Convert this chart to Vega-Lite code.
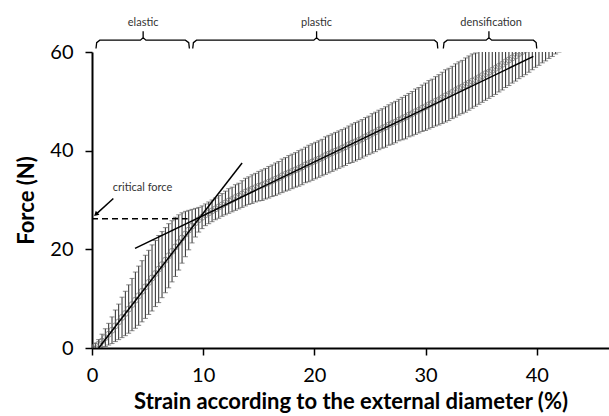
{
  "$schema": "https://vega.github.io/schema/vega-lite/v6.json",
  "autosize": {"type": "none"},
  "padding": {"left": 92, "top": 52, "right": 0, "bottom": 68},
  "width": 517,
  "height": 296,
  "background": "white",
  "config": {
    "view": {"stroke": null},
    "font": "Lato",
    "axis": {"grid": false, "domainColor": "black", "domainWidth": 2, "tickColor": "black", "tickWidth": 1.5, "tickSize": 7,
      "labelFontSize": 20, "labelColor": "black", "labelFont": "Lato", "labelFlush": false,
      "titleFontSize": 22, "titleFontWeight": "bold", "titleColor": "black", "titleFont": "Lato"},
    "axisX": {"labelPadding": 10, "titlePadding": 6},
    "axisY": {"labelPadding": 12, "titlePadding": 11}
  },
  "datasets": {
    "pts": [
      {"x":0,"y":0,"lo":-0.3,"hi":0.3},{"x":0.3,"y":0.36,"lo":-0.2,"hi":1.0},{"x":0.6,"y":0.8,"lo":-0.1,"hi":1.7},{"x":0.9,"y":1.4,"lo":0,"hi":2.8},
      {"x":1.2,"y":2.1,"lo":0.3,"hi":3.9},{"x":1.5,"y":2.8,"lo":0.6,"hi":5.0},{"x":1.8,"y":3.6,"lo":0.9,"hi":6.3},{"x":2.1,"y":4.5,"lo":1.3,"hi":7.7},
      {"x":2.4,"y":5.3,"lo":1.7,"hi":8.9},{"x":2.7,"y":6.2,"lo":2.1,"hi":10.3},{"x":3.0,"y":7.0,"lo":2.5,"hi":11.5},{"x":3.3,"y":7.9,"lo":3.0,"hi":12.8},
      {"x":3.6,"y":8.8,"lo":3.5,"hi":14.1},{"x":3.9,"y":9.7,"lo":4.0,"hi":15.4},{"x":4.2,"y":10.6,"lo":4.6,"hi":16.6},{"x":4.5,"y":11.5,"lo":5.3,"hi":17.7},
      {"x":4.8,"y":12.4,"lo":6.0,"hi":18.8},{"x":5.1,"y":13.3,"lo":6.8,"hi":19.8},{"x":5.4,"y":14.2,"lo":7.5,"hi":20.9},{"x":5.7,"y":15.1,"lo":8.4,"hi":21.8},
      {"x":6.0,"y":16.0,"lo":9.2,"hi":22.8},{"x":6.3,"y":16.9,"lo":10.2,"hi":23.6},{"x":6.6,"y":17.8,"lo":11.2,"hi":24.4},{"x":6.9,"y":18.7,"lo":12.2,"hi":25.2},
      {"x":7.2,"y":19.6,"lo":13.4,"hi":25.8},{"x":7.5,"y":20.5,"lo":14.5,"hi":26.5},{"x":7.8,"y":21.4,"lo":15.8,"hi":27.0},{"x":8.1,"y":22.3,"lo":17.2,"hi":27.4},
      {"x":8.4,"y":23.1,"lo":18.5,"hi":27.7},{"x":8.7,"y":23.9,"lo":19.9,"hi":27.9},{"x":9.0,"y":24.7,"lo":21.3,"hi":28.1},{"x":9.3,"y":25.4,"lo":22.5,"hi":28.3},
      {"x":9.6,"y":26.0,"lo":23.5,"hi":28.5},{"x":9.9,"y":26.5,"lo":24.2,"hi":28.8},{"x":10.2,"y":27.0,"lo":24.8,"hi":29.2},{"x":10.5,"y":27.4,"lo":25.2,"hi":29.6},
      {"x":10.8,"y":27.8,"lo":25.6,"hi":30.0},{"x":11.1,"y":28.2,"lo":26.0,"hi":30.4},{"x":11.4,"y":28.6,"lo":26.3,"hi":30.9},{"x":11.7,"y":29.0,"lo":26.7,"hi":31.3},
      {"x":12.0,"y":29.4,"lo":27.0,"hi":31.8},{"x":12.3,"y":29.8,"lo":27.3,"hi":32.3},{"x":12.6,"y":30.1,"lo":27.6,"hi":32.6},{"x":12.9,"y":30.5,"lo":27.9,"hi":33.1},
      {"x":13.2,"y":30.8,"lo":28.2,"hi":33.4},{"x":13.5,"y":31.2,"lo":28.5,"hi":33.9},{"x":13.8,"y":31.6,"lo":28.8,"hi":34.4},{"x":14.1,"y":31.9,"lo":29.1,"hi":34.7},
      {"x":14.4,"y":32.2,"lo":29.3,"hi":35.1},{"x":14.7,"y":32.5,"lo":29.6,"hi":35.4},{"x":15.0,"y":32.8,"lo":29.8,"hi":35.8},{"x":15.3,"y":33.0,"lo":29.9,"hi":36.1},
      {"x":15.6,"y":33.3,"lo":30.2,"hi":36.4},{"x":15.9,"y":33.6,"lo":30.4,"hi":36.8},{"x":16.2,"y":33.9,"lo":30.7,"hi":37.1},{"x":16.5,"y":34.2,"lo":30.9,"hi":37.5},
      {"x":16.8,"y":34.5,"lo":31.2,"hi":37.8},{"x":17.1,"y":34.9,"lo":31.5,"hi":38.3},{"x":17.4,"y":35.2,"lo":31.8,"hi":38.6},{"x":17.7,"y":35.5,"lo":32.0,"hi":39.0},
      {"x":18.0,"y":35.8,"lo":32.3,"hi":39.3},{"x":18.3,"y":36.1,"lo":32.6,"hi":39.6},{"x":18.6,"y":36.4,"lo":32.8,"hi":40.0},{"x":18.9,"y":36.7,"lo":33.1,"hi":40.3},
      {"x":19.2,"y":37.1,"lo":33.5,"hi":40.7},{"x":19.5,"y":37.4,"lo":33.7,"hi":41.1},{"x":19.8,"y":37.7,"lo":34.0,"hi":41.4},{"x":20.1,"y":38.0,"lo":34.3,"hi":41.7},
      {"x":20.4,"y":38.3,"lo":34.6,"hi":42.0},{"x":20.7,"y":38.6,"lo":34.9,"hi":42.3},{"x":21.0,"y":39.0,"lo":35.2,"hi":42.8},{"x":21.3,"y":39.3,"lo":35.5,"hi":43.1},
      {"x":21.6,"y":39.6,"lo":35.8,"hi":43.4},{"x":21.9,"y":39.9,"lo":36.1,"hi":43.7},{"x":22.2,"y":40.2,"lo":36.4,"hi":44.0},{"x":22.5,"y":40.5,"lo":36.7,"hi":44.3},
      {"x":22.8,"y":40.8,"lo":37.0,"hi":44.6},{"x":23.1,"y":41.2,"lo":37.4,"hi":45.0},{"x":23.4,"y":41.5,"lo":37.6,"hi":45.4},{"x":23.7,"y":41.8,"lo":37.9,"hi":45.7},
      {"x":24.0,"y":42.1,"lo":38.2,"hi":46.0},{"x":24.3,"y":42.4,"lo":38.5,"hi":46.3},{"x":24.6,"y":42.8,"lo":38.9,"hi":46.7},{"x":24.9,"y":43.1,"lo":39.2,"hi":47.0},
      {"x":25.2,"y":43.5,"lo":39.5,"hi":47.5},{"x":25.5,"y":43.8,"lo":39.8,"hi":47.8},{"x":25.8,"y":44.2,"lo":40.2,"hi":48.2},{"x":26.1,"y":44.5,"lo":40.5,"hi":48.5},
      {"x":26.4,"y":44.8,"lo":40.7,"hi":48.9},{"x":26.7,"y":45.2,"lo":41.1,"hi":49.3},{"x":27.0,"y":45.5,"lo":41.3,"hi":49.7},{"x":27.3,"y":45.8,"lo":41.6,"hi":50.0},
      {"x":27.6,"y":46.2,"lo":42.0,"hi":50.4},{"x":27.9,"y":46.5,"lo":42.2,"hi":50.8},{"x":28.2,"y":46.8,"lo":42.4,"hi":51.2},{"x":28.5,"y":47.2,"lo":42.8,"hi":51.6},
      {"x":28.8,"y":47.5,"lo":43.0,"hi":52.0},{"x":29.1,"y":47.9,"lo":43.3,"hi":52.5},{"x":29.4,"y":48.2,"lo":43.6,"hi":52.8},{"x":29.7,"y":48.6,"lo":43.9,"hi":53.3},
      {"x":30.0,"y":48.9,"lo":44.1,"hi":53.7},{"x":30.3,"y":49.3,"lo":44.4,"hi":54.2},{"x":30.6,"y":49.6,"lo":44.7,"hi":54.5},{"x":30.9,"y":50.0,"lo":45.0,"hi":55.0},
      {"x":31.2,"y":50.3,"lo":45.2,"hi":55.4},{"x":31.5,"y":50.7,"lo":45.5,"hi":55.9},{"x":31.8,"y":51.1,"lo":45.8,"hi":56.4},{"x":32.1,"y":51.4,"lo":46.1,"hi":56.7},
      {"x":32.4,"y":51.8,"lo":46.5,"hi":57.1},{"x":32.7,"y":52.2,"lo":46.8,"hi":57.6},{"x":33.0,"y":52.6,"lo":47.2,"hi":58.0},{"x":33.3,"y":52.9,"lo":47.5,"hi":58.3},
      {"x":33.6,"y":53.3,"lo":47.8,"hi":58.8},{"x":33.9,"y":53.7,"lo":48.2,"hi":59.2},{"x":34.2,"y":54.1,"lo":48.6,"hi":59.6},{"x":34.5,"y":54.4,"lo":49.0,"hi":59.8},
      {"x":34.8,"y":54.8,"lo":49.4,"hi":60.2},{"x":35.1,"y":55.2,"lo":49.8,"hi":60.6},{"x":35.4,"y":55.6,"lo":50.2,"hi":61.0},{"x":35.7,"y":55.9,"lo":50.6,"hi":61.2},
      {"x":36.0,"y":56.3,"lo":51.0,"hi":61.6},{"x":36.3,"y":56.7,"lo":51.4,"hi":62.0},{"x":36.6,"y":57.1,"lo":51.9,"hi":62.3},{"x":36.9,"y":57.5,"lo":52.3,"hi":62.7},
      {"x":37.2,"y":58.0,"lo":52.8,"hi":63.2},{"x":37.5,"y":58.4,"lo":53.2,"hi":63.6},{"x":37.8,"y":58.8,"lo":53.7,"hi":63.9},{"x":38.1,"y":59.2,"lo":54.1,"hi":64.3},
      {"x":38.4,"y":59.7,"lo":54.6,"hi":64.8},{"x":38.7,"y":60.1,"lo":55.0,"hi":65.2},{"x":39.0,"y":60.5,"lo":55.4,"hi":65.6},{"x":39.3,"y":60.9,"lo":55.9,"hi":65.9},
      {"x":39.6,"y":61.4,"lo":56.4,"hi":66.4},{"x":39.9,"y":61.9,"lo":56.9,"hi":66.9},{"x":40.2,"y":62.3,"lo":57.3,"hi":67.3},{"x":40.5,"y":62.8,"lo":57.8,"hi":67.8},
      {"x":40.8,"y":63.2,"lo":58.2,"hi":68.2},{"x":41.1,"y":63.7,"lo":58.7,"hi":68.7},{"x":41.4,"y":64.1,"lo":59.1,"hi":69.1},{"x":41.7,"y":64.6,"lo":59.6,"hi":69.6},
      {"x":42.0,"y":65.0,"lo":60.0,"hi":70.0}
    ],
    "lines": [
      {"g":"steep","x":0.6,"y":0},{"g":"steep","x":13.5,"y":37.5},
      {"g":"fit","x":3.87,"y":20.2},{"g":"fit","x":39.7,"y":59.1},
      {"g":"arrow","x":1.92,"y":30.3},{"g":"arrow","x":0.45,"y":27.3}
    ],
    "dash": [{"x":0,"y":26.2},{"x":8.6,"y":26.2}],
    "head": [{"x":0.4,"y":27.2}],
    "braces": [
      {"g":"e","o":1,"x":0.36,"y":60.7},{"g":"e","o":2,"x":0.42,"y":61.9},{"g":"e","o":3,"x":0.7,"y":62.4},{"g":"e","o":4,"x":4.35,"y":62.4},{"g":"e","o":5,"x":4.6,"y":62.9},{"g":"e","o":6,"x":4.6,"y":64.2},{"g":"e","o":7,"x":4.6,"y":62.9},{"g":"e","o":8,"x":4.85,"y":62.4},{"g":"e","o":9,"x":8.4,"y":62.4},{"g":"e","o":10,"x":8.7,"y":61.9},{"g":"e","o":11,"x":8.76,"y":60.7},
      {"g":"p","o":1,"x":9.06,"y":60.7},{"g":"p","o":2,"x":9.12,"y":61.9},{"g":"p","o":3,"x":9.4,"y":62.4},{"g":"p","o":4,"x":19.95,"y":62.4},{"g":"p","o":5,"x":20.2,"y":62.9},{"g":"p","o":6,"x":20.2,"y":64.2},{"g":"p","o":7,"x":20.2,"y":62.9},{"g":"p","o":8,"x":20.45,"y":62.4},{"g":"p","o":9,"x":30.8,"y":62.4},{"g":"p","o":10,"x":31.05,"y":61.9},{"g":"p","o":11,"x":31.1,"y":60.7},
      {"g":"d","o":1,"x":31.6,"y":60.7},{"g":"d","o":2,"x":31.66,"y":61.9},{"g":"d","o":3,"x":31.95,"y":62.4},{"g":"d","o":4,"x":35.45,"y":62.4},{"g":"d","o":5,"x":35.7,"y":62.9},{"g":"d","o":6,"x":35.7,"y":64.2},{"g":"d","o":7,"x":35.7,"y":62.9},{"g":"d","o":8,"x":35.95,"y":62.4},{"g":"d","o":9,"x":39.7,"y":62.4},{"g":"d","o":10,"x":39.95,"y":61.9},{"g":"d","o":11,"x":40.0,"y":60.7}
    ],
    "labels": [
      {"x":4.6,"y":65.8,"t":"elastic"},
      {"x":20.2,"y":65.8,"t":"plastic"},
      {"x":35.9,"y":65.8,"t":"densification"},
      {"x":4.55,"y":32.5,"t":"critical force"}
    ]
  },
  "encoding": {
    "x": {"field": "x", "type": "quantitative", "scale": {"domain": [0, 46.5], "nice": false, "zero": false},
      "axis": {"values": [0, 10, 20, 30, 40], "title": "Strain according to the external diameter (%)"}},
    "y": {"field": "y", "type": "quantitative", "scale": {"domain": [0, 60], "nice": false},
      "axis": {"values": [0, 20, 40, 60], "title": "Force (N)"}}
  },
  "layer": [
    {
      "data": {"name": "pts"},
      "mark": {"type": "rule", "clip": true, "color": "#2a2a2a", "strokeWidth": 1},
      "encoding": {
        "y": {"field": "lo", "type": "quantitative", "scale": {"domain": [0, 60], "nice": false}, "axis": {"values": [0, 20, 40, 60], "title": "Force (N)"}},
        "y2": {"field": "hi"}
      }
    },
    {
      "data": {"name": "pts"},
      "mark": {"type": "tick", "orient": "horizontal", "clip": true, "color": "#555555", "size": 5, "thickness": 1},
      "encoding": {"y": {"field": "lo", "type": "quantitative", "scale": {"domain": [0, 60], "nice": false}, "axis": {"values": [0, 20, 40, 60], "title": "Force (N)"}}}
    },
    {
      "data": {"name": "pts"},
      "mark": {"type": "tick", "orient": "horizontal", "clip": true, "color": "#555555", "size": 5, "thickness": 1},
      "encoding": {"y": {"field": "hi", "type": "quantitative", "scale": {"domain": [0, 60], "nice": false}, "axis": {"values": [0, 20, 40, 60], "title": "Force (N)"}}}
    },
    {
      "data": {"name": "pts"},
      "mark": {"type": "point", "shape": "circle", "filled": false, "clip": true, "color": "#6e6e6e", "size": 36, "strokeWidth": 1}
    },
    {
      "data": {"name": "lines"},
      "mark": {"type": "line", "color": "black", "strokeWidth": 1.5},
      "encoding": {"detail": {"field": "g"}}
    },
    {
      "data": {"name": "dash"},
      "mark": {"type": "line", "color": "black", "strokeWidth": 1.3, "strokeDash": [6, 4]},
      "encoding": {}
    },
    {
      "data": {"name": "head"},
      "mark": {"type": "point", "shape": "triangle", "filled": true, "color": "black", "size": 30, "angle": 228, "opacity": 1}
    },
    {
      "data": {"name": "braces"},
      "mark": {"type": "line", "color": "black", "strokeWidth": 1.3},
      "encoding": {"detail": {"field": "g"}, "order": {"field": "o", "type": "quantitative"}}
    },
    {
      "data": {"name": "labels"},
      "mark": {"type": "text", "fontSize": 11, "color": "#333333", "font": "Lato", "align": "center", "baseline": "middle"},
      "encoding": {"text": {"field": "t"}}
    }
  ]
}
